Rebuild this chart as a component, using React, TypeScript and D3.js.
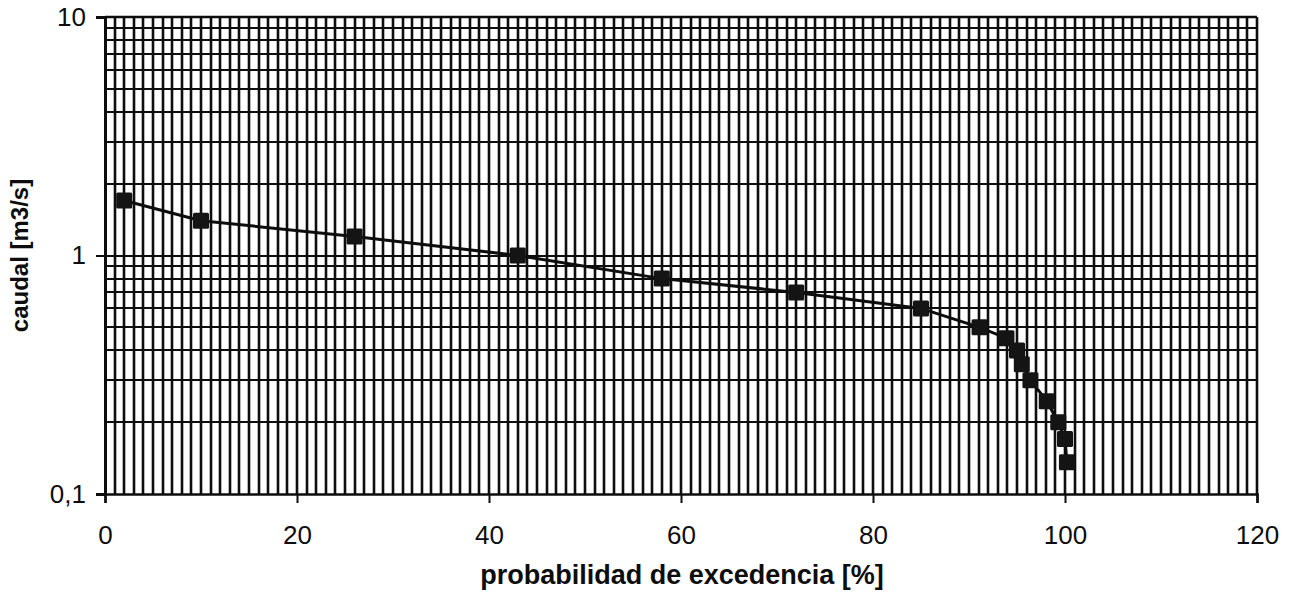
import React, { useEffect, useRef } from "react";
import * as d3 from "d3";

const probability = [2, 10, 26, 43, 58, 72, 85, 91.1, 93.9, 95.0, 95.5, 96.4, 98.1, 99.3, 100, 100.2];
const discharge = [1.7, 1.4, 1.2, 1.0, 0.8, 0.7, 0.6, 0.5, 0.45, 0.4, 0.35, 0.3, 0.245, 0.2, 0.17, 0.136];
const xTicks = [0, 20, 40, 60, 80, 100, 120];
const yTicks = [0.1, 1, 10];
const yTickLabels = ["0,1", "1", "10"];

const App: React.FC = () => {
  const svgRef = useRef<SVGSVGElement | null>(null);

  useEffect(() => {
    const width = 1296;
    const height = 602;
    const margin = { top: 17, right: 39, bottom: 108, left: 105 };

    const svg = d3.select(svgRef.current);
    svg.selectAll("*").remove();
    svg.attr("width", width).attr("height", height);

    const x = d3.scaleLinear().domain([0, 120]).range([margin.left, width - margin.right]);
    const y = d3.scaleLog().domain([0.1, 10]).range([height - margin.bottom, margin.top]);

    const font = "'Liberation Sans', Arial, sans-serif";
    const ink = "#0d0d0d";

    // vertical grid, every 1 %
    svg.append("g")
      .selectAll("line")
      .data(d3.range(1, 121))
      .join("line")
      .attr("x1", d => Math.round(x(d))).attr("x2", d => Math.round(x(d)))
      .attr("y1", y(10)).attr("y2", y(0.1))
      .attr("stroke", ink)
      .attr("stroke-width", 2.6);

    // horizontal grid, log minor ticks
    const yGrid = y.ticks().filter(v => v > 0.1 && v <= 10);
    svg.append("g")
      .selectAll("line")
      .data(yGrid)
      .join("line")
      .attr("x1", x(0)).attr("x2", x(120))
      .attr("y1", d => Math.round(y(d))).attr("y2", d => Math.round(y(d)))
      .attr("stroke", ink)
      .attr("stroke-width", 2.2);

    // axes
    const xAxis = svg.append("g")
      .attr("transform", `translate(0,${y(0.1)})`)
      .call(d3.axisBottom(x).tickValues(xTicks).tickSize(9).tickPadding(23));
    xAxis.select(".domain").attr("stroke", ink).attr("stroke-width", 2.5);
    xAxis.selectAll(".tick line").attr("stroke", ink).attr("stroke-width", 2);
    xAxis.selectAll("text")
      .attr("fill", ink)
      .style("font-family", font)
      .style("font-size", "26px");

    const yAxis = svg.append("g")
      .attr("transform", `translate(${x(0)},0)`)
      .call(d3.axisLeft(y).tickValues(yTicks).tickFormat((d, i) => yTickLabels[i]).tickSize(9).tickPadding(10));
    yAxis.select(".domain").attr("stroke", ink).attr("stroke-width", 3);
    yAxis.selectAll(".tick line").attr("stroke", ink).attr("stroke-width", 2);
    yAxis.selectAll("text")
      .attr("fill", ink)
      .style("font-family", font)
      .style("font-size", "26px");

    // frame top
    svg.append("line")
      .attr("x1", x(0)).attr("x2", x(120))
      .attr("y1", y(10)).attr("y2", y(10))
      .attr("stroke", ink).attr("stroke-width", 2.5);

    // series
    const pts = probability.map((p, i) => [p, discharge[i]] as [number, number]);
    const line = d3.line<[number, number]>().x(d => x(d[0])).y(d => y(d[1]));
    svg.append("path")
      .datum(pts)
      .attr("d", line)
      .attr("fill", "none")
      .attr("stroke", ink)
      .attr("stroke-width", 3);

    const s = 16;
    svg.append("g")
      .selectAll("rect")
      .data(pts)
      .join("rect")
      .attr("x", d => x(d[0]) - s / 2)
      .attr("y", d => y(d[1]) - s / 2)
      .attr("width", s)
      .attr("height", s)
      .attr("rx", 1.5)
      .attr("fill", "#141414");

    // axis titles
    svg.append("text")
      .attr("x", (x(0) + x(120)) / 2 + 1)
      .attr("y", 584)
      .attr("text-anchor", "middle")
      .attr("fill", ink)
      .style("font-family", font)
      .style("font-weight", "bold")
      .style("font-size", "27px")
      .text("probabilidad de excedencia [%]");

    svg.append("text")
      .attr("transform", `translate(28,${(y(0.1) + y(10)) / 2}) rotate(-90)`)
      .attr("text-anchor", "middle")
      .attr("fill", ink)
      .style("font-family", font)
      .style("font-weight", "bold")
      .style("font-size", "24px")
      .text("caudal [m3/s]");
  }, []);

  return (
    <svg ref={svgRef} style={{ position: "absolute", left: 0, top: 0, background: "#fff" }}></svg>
  );
};

export default App;
